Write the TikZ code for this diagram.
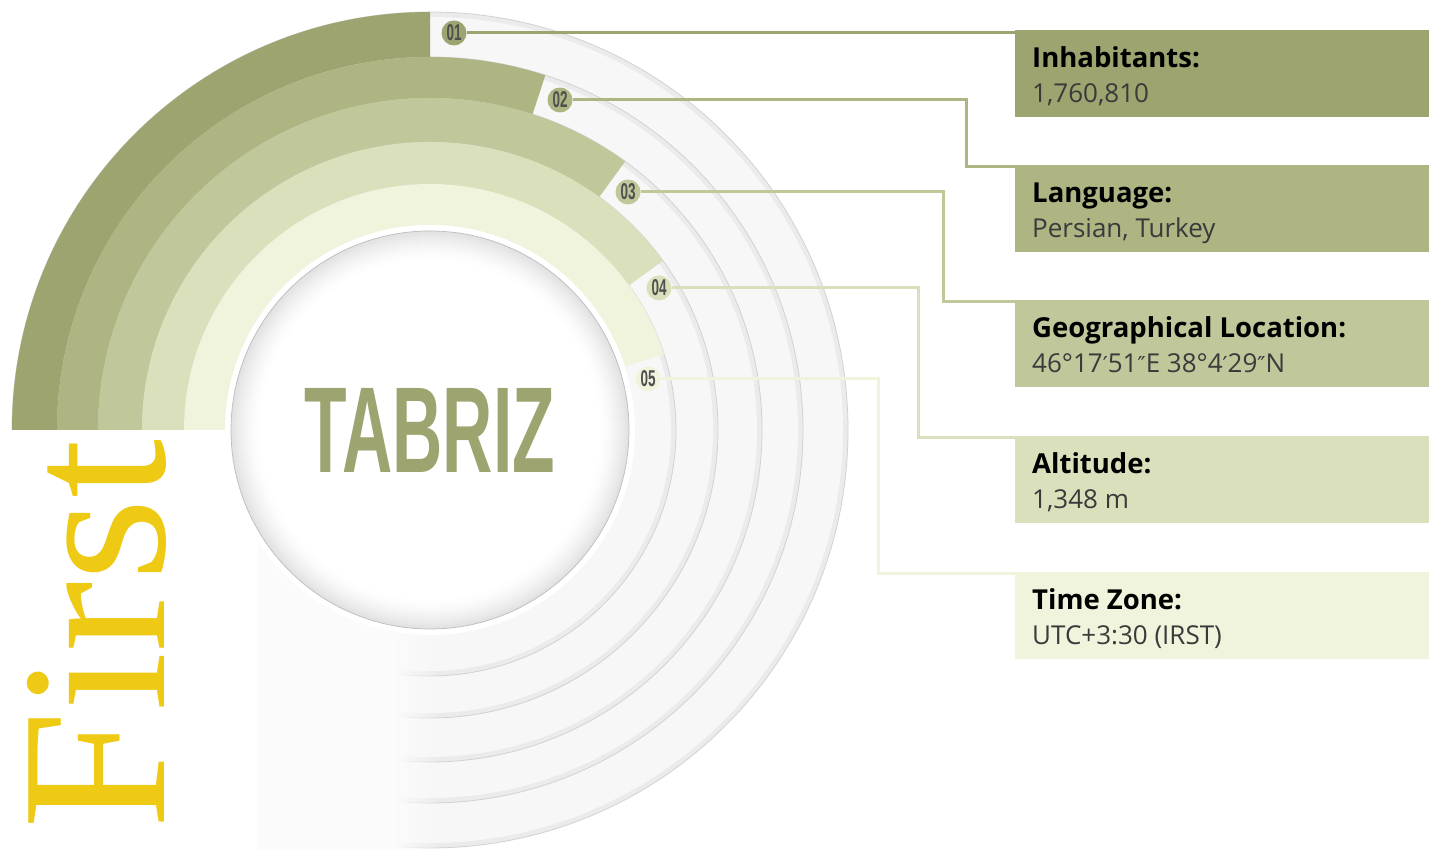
\documentclass[tikz,border=0pt]{standalone}
\usepackage{fontspec}
\setmainfont{Open Sans}
\newfontfamily\serifF{Liberation Serif}
\newfontfamily\condF{Liberation Sans}
\newfontfamily\dvF{DejaVu Sans}
\usetikzlibrary{fadings}
\definecolor{c1}{HTML}{9DA46F}
\definecolor{c2}{HTML}{AEB583}
\definecolor{c3}{HTML}{C0C79B}
\definecolor{c4}{HTML}{DBE0BC}
\definecolor{c5}{HTML}{F0F4DC}
\definecolor{ringfill}{HTML}{F7F7F7}
\definecolor{ringedge}{HTML}{D2D2D2}
\definecolor{ringshade}{HTML}{EBEBEB}
\definecolor{faint}{HTML}{FBFBFC}
\definecolor{yel}{HTML}{EECA15}
\definecolor{badgetxt}{HTML}{4F4F4F}
\definecolor{valtxt}{HTML}{3A3A3A}
\definecolor{discedge}{HTML}{BDBDBD}
\newcommand{\prm}{{\dvF\fontsize{22}{26}\selectfont ′}}
\newcommand{\dprm}{{\dvF\fontsize{22}{26}\selectfont ″}}
\begin{document}
\begin{tikzpicture}[x=1pt,y=1pt,
  ringedgeline/.style={draw=ringedge, line width=0.8pt},
  badge/.style={circle, minimum size=25pt, inner sep=0pt, outer sep=0pt},
  infobox/.style={anchor=north west, minimum width=414pt, minimum height=87pt, inner sep=0pt, outer sep=0pt},
  infotitle/.style={anchor=base west, font=\bfseries\fontsize{27.5}{30}\selectfont, text=black, inner sep=0pt},
  infovalue/.style={anchor=base west, font=\fontsize{26}{30}\selectfont, text=valtxt, inner sep=0pt},
  conn/.style={line width=3pt}
]
\useasboundingbox (0,0) rectangle (1429,850);
\coordinate (C) at (430,420);
% white stacked rings
\foreach \r in {418,373,332,288,246}{
  \fill[ringshade] (C) circle (\r);
  \fill[ringfill] (C) circle (\r-5);
  \draw[ringedgeline] (C) circle (\r);
}
% lower-left cover
\fill[white] (0,0) rectangle (258,420);
\fill[faint] (258,0) rectangle (395,420);
\fill[faint, path fading=east] (395,0) rectangle (440,420);
% coloured bands
\begin{scope}[shift={(430,420)}]
\fill[c1] (180:418) arc[start angle=180,end angle=90,radius=418] -- (90:373) arc[start angle=90,end angle=180,radius=373] -- cycle;
\fill[c2] (180:373) arc[start angle=180,end angle=72,radius=373] -- (72:332) arc[start angle=72,end angle=180,radius=332] -- cycle;
\fill[c3] (180:332) arc[start angle=180,end angle=54,radius=332] -- (54:288) arc[start angle=54,end angle=180,radius=288] -- cycle;
\fill[c4] (180:288) arc[start angle=180,end angle=36,radius=288] -- (36:246) arc[start angle=36,end angle=180,radius=246] -- cycle;
\fill[c5] (180:246) arc[start angle=180,end angle=18,radius=246] -- (18:205) arc[start angle=18,end angle=180,radius=205] -- cycle;
\end{scope}
% central disc with soft grey rim
\fill[white] (C) circle (205);
\fill[discedge!45] (C) circle (199);
\foreach \i in {1,...,30}{
  \pgfmathsetmacro{\pc}{45*(1-\i/30)^1.6}
  \fill[discedge!\pc] (C) circle (199-\i);
}
\draw[discedge, line width=0.7pt] (C) circle (199);
\node[inner sep=0pt, text=c1, font=\condF\bfseries] (city) at (430,420) {\resizebox{250pt}{84pt}{TABRIZ}};
% First
\node[rotate=90, anchor=base west, inner sep=0pt, text=yel, font=\serifF] (first) at (165,20) {\resizebox{390pt}{137pt}{First}};
% badges
\node[badge, fill=c1] (b1) at (454,817) {\resizebox{15pt}{16pt}{\condF\bfseries\color{badgetxt}01}};
\node[badge, fill=c2] (b2) at (560,750) {\resizebox{15pt}{16pt}{\condF\bfseries\color{badgetxt}02}};
\node[badge, fill=c3] (b3) at (628,658) {\resizebox{15pt}{16pt}{\condF\bfseries\color{badgetxt}03}};
\node[badge, fill=c4] (b4) at (659,562) {\resizebox{15pt}{16pt}{\condF\bfseries\color{badgetxt}04}};
\node[badge, fill=c5] (b5) at (648,471) {\resizebox{15pt}{16pt}{\condF\bfseries\color{badgetxt}05}};
% info boxes
\node[infobox, fill=c1] (box1) at (1015,820) {};
\node[infobox, fill=c2] (box2) at (1015,685) {};
\node[infobox, fill=c3] (box3) at (1015,550) {};
\node[infobox, fill=c4] (box4) at (1015,414) {};
\node[infobox, fill=c5] (box5) at (1015,278) {};
\node[infotitle] (t1) at (1032,782) {Inhabitants:};
\node[infovalue] (v1) at (1032,747) {1,760,810};
\node[infotitle] (t2) at (1032,647) {Language:};
\node[infovalue] (v2) at (1032,612) {Persian, Turkey};
\node[infotitle] (t3) at (1032,512) {Geographical Location:};
\node[infovalue] (v3) at (1032,477) {46°17\prm51\dprm E 38°4\prm29\dprm N};
\node[infotitle] (t4) at (1032,376) {Altitude:};
\node[infovalue] (v4) at (1032,341) {1,348 m};
\node[infotitle] (t5) at (1032,240) {Time Zone:};
\node[infovalue] (v5) at (1032,205) {UTC+3:30 (IRST)};
% connectors
\coordinate (k2) at (966,683);
\coordinate (k3) at (943,548);
\coordinate (k4) at (918,412);
\coordinate (k5) at (878,276);
\draw[conn, c1] (b1.east) -- (b1.east -| box1.west);
\draw[conn, c2] (b2.east) -- (b2.east -| k2) -- (k2) -- (k2 -| box2.west);
\draw[conn, c3] (b3.east) -- (b3.east -| k3) -- (k3) -- (k3 -| box3.west);
\draw[conn, c4] (b4.east) -- (b4.east -| k4) -- (k4) -- (k4 -| box4.west);
\draw[conn, c5] (b5.east) -- (b5.east -| k5) -- (k5) -- (k5 -| box5.west);
\end{tikzpicture}
\end{document}
